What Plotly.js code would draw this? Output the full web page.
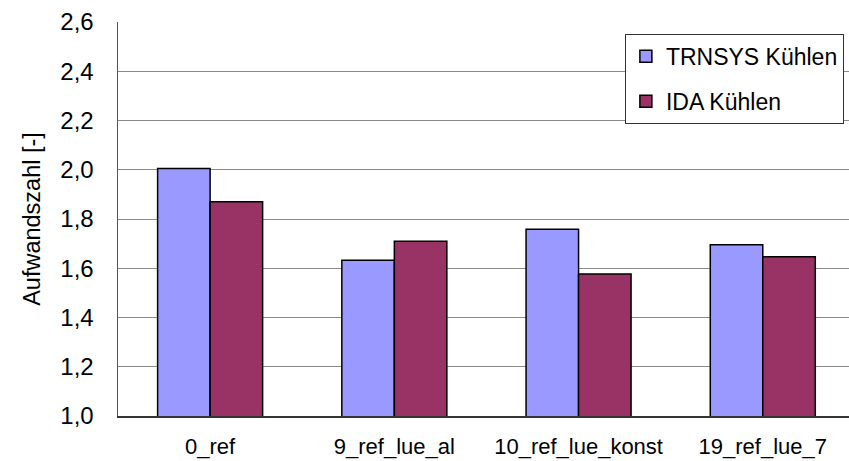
<!DOCTYPE html>
<html>
<head>
<meta charset="utf-8">
<script src="https://cdn.plot.ly/plotly-3.0.1.min.js"></script>
<style>html,body{margin:0;padding:0;background:#fff;}#chart{width:849px;height:461px;}</style>
</head>
<body>
<div id="chart"></div>
<script>
const categories = ["0_ref", "9_ref_lue_al", "10_ref_lue_konst", "19_ref_lue_7"];
const trnsysValues = [2.005, 1.632, 1.758, 1.695];
const idaValues = [1.870, 1.710, 1.577, 1.647];
const seriesNames = ["TRNSYS Kühlen", "IDA Kühlen"];
const yTickValues = [1.0, 1.2, 1.4, 1.6, 1.8, 2.0, 2.2, 2.4, 2.6];

const font = "Liberation Sans, Arial, sans-serif";

const traces = [
  {type: "bar", name: seriesNames[0], x: categories, y: trnsysValues, legendgroup: "a",
   marker: {color: "#9999FF", line: {color: "#000000", width: 1.5}}},
  {type: "bar", name: seriesNames[1], x: categories, y: idaValues, legendgroup: "b",
   marker: {color: "#993366", line: {color: "#000000", width: 1.5}}}
];

const layout = {
  width: 849, height: 461,
  margin: {l: 118, r: 0, t: 22, b: 45, pad: 0},
  paper_bgcolor: "#ffffff", plot_bgcolor: "#ffffff",
  separators: ",.",
  barmode: "group", bargap: 0.43, bargroupgap: 0,
  showlegend: true,
  legend: {
    x: 0.993, xanchor: "right", y: 0.97, yanchor: "top",
    bgcolor: "#ffffff", bordercolor: "#333333", borderwidth: 1,
    font: {family: font, size: 23, color: "#000"},
    traceorder: "grouped", tracegroupgap: 12
  },
  xaxis: {
    type: "category", range: [-0.5, 3.468], fixedrange: true,
    showline: true, linecolor: "#333", linewidth: 1.5,
    ticks: "", showgrid: false, zeroline: false,
    tickfont: {family: font, size: 22, color: "#000"},
    ticklabelstandoff: 10
  },
  yaxis: {
    range: [1.0, 2.6], tickvals: yTickValues, tickformat: ".1f",
    showline: true, linecolor: "#555", linewidth: 1.5,
    showgrid: true, gridcolor: "#8a8a8a", gridwidth: 1,
    zeroline: false, ticks: "",
    tickfont: {family: font, size: 24, color: "#000"},
    ticklabelstandoff: 18,
    title: {text: "Aufwandszahl [-]", font: {family: font, size: 23.5, color: "#000"}, standoff: 13}
  }
};

Plotly.newPlot("chart", traces, layout, {displayModeBar: false, staticPlot: true});
</script>
</body>
</html>
